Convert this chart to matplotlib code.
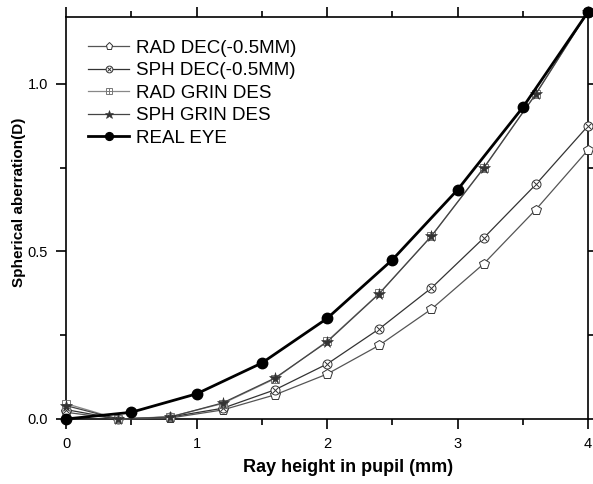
import matplotlib
matplotlib.use("Agg")
import matplotlib.pyplot as plt
from matplotlib.ticker import MultipleLocator

plt.rcParams['font.family'] = ['Liberation Sans', 'DejaVu Sans']

x_des = [0, 0.4, 0.8, 1.2, 1.6, 2.0, 2.4, 2.8, 3.2, 3.6, 4.0]
rad_dec = [0.02, 0.0, 0.003, 0.027, 0.072, 0.134, 0.22, 0.328, 0.463, 0.625, 0.803]
sph_dec = [0.028, 0.0, 0.006, 0.032, 0.087, 0.164, 0.269, 0.391, 0.54, 0.70, 0.875]
rad_grin = [0.046, 0.0, 0.007, 0.046, 0.12, 0.232, 0.375, 0.546, 0.748, 0.97, 1.215]
sph_grin = [0.04, 0.0, 0.006, 0.048, 0.122, 0.23, 0.374, 0.546, 0.749, 0.97, 1.215]
x_eye = [0, 0.5, 1.0, 1.5, 2.0, 2.5, 3.0, 3.5, 4.0]
real_eye = [0.0, 0.02, 0.075, 0.167, 0.30, 0.475, 0.684, 0.93, 1.215]

fig = plt.figure(figsize=(5.93, 4.84), dpi=100)
ax = fig.add_axes([0.1113, 0.1343, 0.8803, 0.8306])

h1, = ax.plot(x_des, rad_dec, color='#555555', lw=0.9, marker='p', ms=7,
              mfc='white', mec='#333333', mew=0.7, zorder=3)
l2, = ax.plot(x_des, sph_dec, color='#333333', lw=0.9, marker='o', ms=6.5,
              mfc='white', mec='#333333', mew=0.7, zorder=3)
m2, = ax.plot(x_des, sph_dec, ls='none', marker='x', ms=4.5, mec='#333333', mew=0.7, zorder=4)
l3, = ax.plot(x_des, rad_grin, color='#888888', lw=0.9, marker='s', ms=5.5,
              mfc='white', mec='#777777', mew=0.7, zorder=3)
m3, = ax.plot(x_des, rad_grin, ls='none', marker='+', ms=5.5, mec='#777777', mew=0.7, zorder=4)
h4, = ax.plot(x_des, sph_grin, color='#444444', lw=0.9, marker='*', ms=8.5,
              mfc='#333333', mec='#333333', mew=0.4, zorder=5)
h5, = ax.plot(x_eye, real_eye, color='black', lw=2, marker='o', ms=7.5,
              mfc='black', mec='black', zorder=6)

for p in [h1, l2, m2, l3, m3, h4, h5]:
    p.set_clip_on(False)

ax.set_xlim(0, 4)
ax.set_ylim(0, 1.2)
ax.xaxis.set_major_locator(MultipleLocator(1))
ax.xaxis.set_minor_locator(MultipleLocator(0.5))
ax.yaxis.set_major_locator(MultipleLocator(0.5))
ax.yaxis.set_minor_locator(MultipleLocator(0.25))
ax.tick_params(which='both', direction='out', top=True, right=True, width=1.2, labelsize=10.5)
ax.tick_params(which='major', length=7, pad=6)
ax.tick_params(which='minor', length=4)
for s in ax.spines.values():
    s.set_linewidth(1.2)

ax.set_xlabel('Ray height in pupil (mm)', fontsize=13, fontweight='bold')
ax.set_ylabel('Spherical aberration(D)', fontsize=11, fontweight='bold')
ax.xaxis.set_label_coords(0.54, -0.1)
ax.yaxis.set_label_coords(-0.077, 0.54)

ax.legend([h1, (l2, m2), (l3, m3), h4, h5],
          ['RAD DEC(-0.5MM)', 'SPH DEC(-0.5MM)', 'RAD GRIN DES', 'SPH GRIN DES', 'REAL EYE'],
          loc='upper left', bbox_to_anchor=(0.01, 0.985), frameon=False, fontsize=13.5,
          handlelength=2.2, labelspacing=0.28, handletextpad=0.35, markerscale=0.75)

fig.savefig('out.png', dpi=100)
